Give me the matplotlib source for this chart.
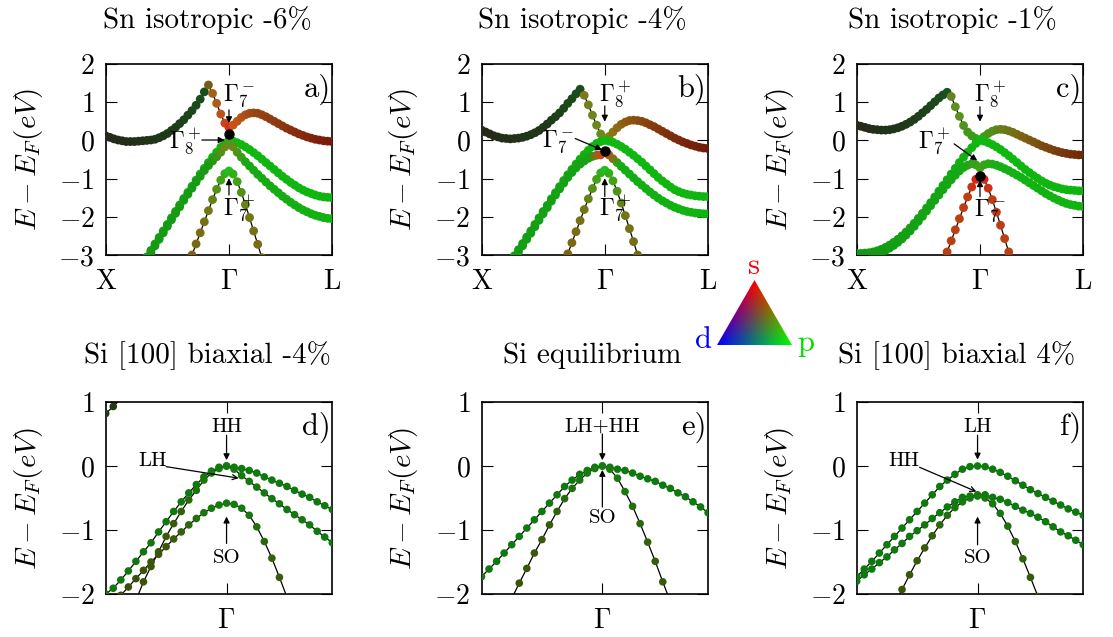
import numpy as np
import matplotlib
matplotlib.use("Agg")
import matplotlib.pyplot as plt
import matplotlib.colors as mcolors
from matplotlib.patches import Polygon

plt.rcParams['font.family'] = 'cmr10'
plt.rcParams['mathtext.fontset'] = 'cm'
plt.rcParams['axes.unicode_minus'] = False

# ---------------- data ----------------
# Sn panels: k grid X(0) -> Gamma(1) -> L(1.8333), step 1/30
sn_k = np.arange(56) / 30.0
sn_ticks = [0.0, 1.0, 55 / 30.0]
sn_ticklabels = ['X', r'$\Gamma$', 'L']

# Si panels: k grid around Gamma, step 1/16
si_k = (np.arange(31) - 16) / 16.0

# panel a: Sn isotropic -6%   (start index, energies)
a_cb = (0, [0.12, 0.08, 0.04, 0.01, -0.01, -0.03, -0.03, -0.03, -0.02, -0.01,
            0.00, 0.01, 0.03, 0.07, 0.12, 0.18, 0.26, 0.34, 0.44, 0.54,
            0.66, 0.78, 0.92, 1.08, 1.27, 1.45, 1.23, 0.97, 0.69, 0.45,
            0.34, 0.40, 0.50, 0.60, 0.67, 0.71, 0.72, 0.71, 0.67, 0.62,
            0.56, 0.50, 0.44, 0.38, 0.32, 0.27, 0.22, 0.17, 0.13, 0.09,
            0.06, 0.03, 0.01, -0.01, -0.02, -0.03])
a_hh = (10, [-3.05, -2.88, -2.71, -2.54, -2.37, -2.20, -2.03, -1.86, -1.69, -1.52,
             -1.36, -1.20, -1.04, -0.88, -0.73, -0.58, -0.44, -0.31, -0.18, -0.07,
             0.00, -0.02, -0.06, -0.11, -0.17, -0.24, -0.32, -0.40, -0.49, -0.58,
             -0.67, -0.76, -0.85, -0.94, -1.02, -1.10, -1.17, -1.24, -1.30, -1.35,
             -1.39, -1.43, -1.46, -1.48, -1.49, -1.50])
a_lh = (10, [-3.10, -2.93, -2.76, -2.59, -2.42, -2.25, -2.08, -1.91, -1.74, -1.57,
             -1.41, -1.25, -1.09, -0.94, -0.79, -0.66, -0.54, -0.43, -0.31, -0.17,
             0.00, -0.17, -0.31, -0.44, -0.56, -0.67, -0.78, -0.89, -0.99, -1.09,
             -1.19, -1.28, -1.37, -1.46, -1.54, -1.62, -1.69, -1.76, -1.82, -1.87,
             -1.92, -1.96, -1.99, -2.02, -2.04, -2.05])
a_so = (20, [-3.29, -3.00, -2.71, -2.42, -2.13, -1.84, -1.55, -1.28, -1.04, -0.87,
             -0.80, -0.88, -1.08, -1.36, -1.68, -2.02, -2.37, -2.72, -3.07])

# panel b: Sn isotropic -4%
b_cb = (0, [0.27, 0.22, 0.17, 0.12, 0.09, 0.06, 0.05, 0.04, 0.05, 0.06,
            0.08, 0.11, 0.15, 0.20, 0.26, 0.34, 0.43, 0.53, 0.62, 0.72,
            0.84, 0.97, 1.09, 1.22, 1.34, 1.18, 0.93, 0.66, 0.40, 0.17,
            0.02, 0.10, 0.22, 0.33, 0.42, 0.48, 0.52, 0.53, 0.52, 0.50,
            0.46, 0.41, 0.36, 0.30, 0.24, 0.18, 0.12, 0.06, 0.01, -0.04,
            -0.08, -0.12, -0.15, -0.18, -0.20, -0.21])
b_hh = (8, [-3.02, -2.86, -2.70, -2.53, -2.37, -2.20, -2.03, -1.86, -1.70, -1.53,
            -1.37, -1.21, -1.05, -0.90, -0.76, -0.62, -0.49, -0.37, -0.26, -0.16,
            -0.08, -0.03, 0.00, -0.02, -0.05, -0.10, -0.16, -0.23, -0.31, -0.39,
            -0.48, -0.57, -0.67, -0.77, -0.87, -0.97, -1.06, -1.14, -1.22, -1.29,
            -1.34, -1.38, -1.41, -1.43, -1.45, -1.46, -1.47, -1.47])
b_lh = (8, [-3.08, -2.92, -2.76, -2.59, -2.43, -2.26, -2.09, -1.92, -1.76, -1.59,
            -1.43, -1.27, -1.12, -0.97, -0.84, -0.72, -0.62, -0.54, -0.47, -0.42,
            -0.39, -0.38, -0.30,
            -0.38, -0.48, -0.58, -0.68, -0.78, -0.88, -0.98, -1.08, -1.17, -1.26,
            -1.35, -1.43, -1.51, -1.58, -1.64, -1.70, -1.75, -1.79, -1.83, -1.86,
            -1.88, -1.90, -1.91, -1.92, -1.92])
b_so = (20, [-3.26, -2.97, -2.68, -2.39, -2.10, -1.81, -1.53, -1.26, -1.02, -0.85,
             -0.78, -0.86, -1.06, -1.33, -1.64, -1.97, -2.31, -2.65, -3.00, -3.35])

# panel c: Sn isotropic -1%
c_cb = (0, [0.40, 0.37, 0.34, 0.31, 0.29, 0.28, 0.27, 0.27, 0.28, 0.30,
            0.33, 0.37, 0.42, 0.48, 0.55, 0.63, 0.72, 0.81, 0.91, 1.01,
            1.11, 1.19, 1.26, 1.15, 0.88, 0.63, 0.39, 0.22, 0.12, 0.05,
            0.02, 0.10, 0.18, 0.24, 0.28, 0.29, 0.28, 0.25, 0.21, 0.16,
            0.11, 0.06, 0.01, -0.04, -0.09, -0.14, -0.18, -0.22, -0.26, -0.29,
            -0.32, -0.34, -0.36, -0.37, -0.38, -0.38])
c_hh = (0, [-2.96, -2.96, -2.95, -2.94, -2.92, -2.89, -2.85, -2.80, -2.74, -2.67,
            -2.59, -2.50, -2.40, -2.29, -2.17, -2.04, -1.91, -1.77, -1.63, -1.48,
            -1.33, -1.18, -1.03, -0.88, -0.73, -0.58, -0.44, -0.31, -0.19, -0.08,
            0.00, -0.02, -0.06, -0.11, -0.17, -0.24, -0.32, -0.40, -0.49, -0.58,
            -0.67, -0.76, -0.84, -0.92, -0.99, -1.06, -1.12, -1.17, -1.21, -1.24,
            -1.27, -1.29, -1.30, -1.31, -1.32, -1.32])
c_lh = (0, [-3.04, -3.04, -3.03, -3.02, -3.00, -2.97, -2.93, -2.88, -2.82, -2.75,
            -2.67, -2.58, -2.48, -2.37, -2.25, -2.12, -1.99, -1.85, -1.71, -1.57,
            -1.43, -1.29, -1.16, -1.03, -0.91, -0.80, -0.71, -0.65, -0.61, -0.64,
            -0.72, -0.64, -0.61, -0.62, -0.65, -0.69, -0.74, -0.79, -0.85, -0.91,
            -0.97, -1.04, -1.11, -1.18, -1.25, -1.32, -1.39, -1.45, -1.51, -1.56,
            -1.61, -1.65, -1.68, -1.70, -1.72, -1.73])
c_so = (21, [-3.21, -2.92, -2.63, -2.34, -2.05, -1.76, -1.48, -1.22, -1.02, -0.95,
             -1.02, -1.25, -1.55, -1.88, -2.22, -2.57, -2.92, -3.27])

# black dots at Gamma (k, E)
sn_dots = [(1.0, 0.17), (1.0, -0.27), (1.0, -0.93)]

# panel d: Si [100] biaxial -4%
d_cb = (0, [0.82, 0.93, 1.05])
d_a = (0, [-2.00, -1.91, -1.78, -1.64, -1.49, -1.34, -1.20, -1.03, -0.87, -0.71,
           -0.56, -0.42, -0.29, -0.17, -0.08, -0.02, 0.00, -0.02, -0.04, -0.07,
           -0.11, -0.17, -0.22, -0.27, -0.32, -0.38, -0.44, -0.49, -0.56, -0.62, -0.68])
d_b = (4, [-2.10, -1.81, -1.57, -1.34, -1.10, -0.90, -0.71, -0.53, -0.38, -0.22,
           -0.11, -0.04, 0.00, -0.05, -0.15, -0.24, -0.33, -0.42, -0.51, -0.59,
           -0.68, -0.76, -0.84, -0.92, -1.02, -1.11, -1.20])
d_c = (2, [-2.02, -1.89, -1.76, -1.63, -1.50, -1.38, -1.26, -1.14, -1.03, -0.92,
           -0.82, -0.73, -0.66, -0.61, -0.58, -0.60, -0.66, -0.77, -0.95, -1.18,
           -1.44, -1.74, -2.05])

# panel e: Si equilibrium
e_hh = (0, [-1.73, -1.61, -1.49, -1.36, -1.23, -1.10, -0.97, -0.84, -0.71, -0.58,
            -0.45, -0.32, -0.22, -0.13, -0.07, -0.02, 0.00, -0.02, -0.05, -0.07,
            -0.11, -0.16, -0.20, -0.24, -0.30, -0.35, -0.42, -0.48, -0.56, -0.64, -0.73])
e_so = (4, [-2.07, -1.83, -1.60, -1.36, -1.15, -0.92, -0.71, -0.51, -0.35, -0.22,
            -0.11, -0.04, 0.00, -0.05, -0.19, -0.40, -0.63, -0.90, -1.19, -1.49,
            -1.81, -2.12])

# panel f: Si [100] biaxial 4%
f_lh = (0, [-1.73, -1.61, -1.49, -1.36, -1.23, -1.10, -0.97, -0.84, -0.71, -0.58,
            -0.45, -0.32, -0.22, -0.13, -0.05, -0.01, 0.00, -0.01, -0.05, -0.10,
            -0.16, -0.23, -0.30, -0.37, -0.43, -0.49, -0.55, -0.61, -0.67, -0.72, -0.77])
f_hh = (0, [-1.80, -1.70, -1.61, -1.51, -1.42, -1.31, -1.21, -1.10, -1.01, -0.92,
            -0.82, -0.73, -0.64, -0.56, -0.49, -0.47, -0.45, -0.45, -0.49, -0.52,
            -0.57, -0.63, -0.69, -0.74, -0.80, -0.87, -0.95, -1.03, -1.09, -1.16, -1.23])
f_so = (5, [-2.17, -1.93, -1.70, -1.48, -1.28, -1.09, -0.92, -0.77, -0.65, -0.56,
            -0.50, -0.47, -0.50, -0.59, -0.74, -0.94, -1.18, -1.45, -1.74, -2.04])

# orbital-character colours along k (k, colour)
dark_cb = [(0.0, '#282818'), (0.5, '#1e3818'), (0.8, '#1a4e1c')]
a_cb_col = dark_cb + [(0.85, '#a06418'), (0.95, '#c0501a'), (1.0, '#d83018'),
                      (1.04, '#c85818'), (1.2, '#9a4814'), (1.5, '#88300e'), (1.84, '#7a1a0a')]
b_cb_col = dark_cb + [(0.82, '#7a7a1a'), (0.97, '#6a8a1e'), (1.04, '#8a7a16'),
                      (1.2, '#8e5412'), (1.5, '#80300e'), (1.84, '#701a0a')]
c_cb_col = [(0.0, '#282818'), (0.4, '#1e3818'), (0.74, '#1a501c'), (0.77, '#6a8a20'),
            (0.95, '#3a9a1a'), (1.0, '#20b018'), (1.08, '#50901a'), (1.3, '#7a6a14'),
            (1.6, '#7a4010'), (1.84, '#6e2a0a')]
green_col = [(0.0, '#149a14'), (0.7, '#12a812'), (1.0, '#10b810'), (1.84, '#10b410')]
a_lh_col = [(0.0, '#149a14'), (0.85, '#189a14'), (0.97, '#6a8a18'), (1.0, '#40a018'),
            (1.03, '#6a8a18'), (1.15, '#18a816'), (1.84, '#10b410')]
b_lh_col = [(0.0, '#149a14'), (0.88, '#14a414'), (0.96, '#c05018'), (1.0, '#d04018'),
            (1.04, '#c05018'), (1.12, '#14ac14'), (1.84, '#10b410')]
c_lh_col = [(0.0, '#129812'), (0.85, '#16a816'), (1.0, '#40a018'), (1.15, '#16b016'), (1.84, '#10b410')]
so_col = [(0.6, '#8a5412'), (0.85, '#6e7a14'), (0.97, '#30b018'), (1.0, '#20c020'),
          (1.03, '#30b018'), (1.15, '#6e7a14'), (1.4, '#8a5412')]
c_so_col = [(0.6, '#b04410'), (0.9, '#c03c12'), (1.0, '#e01c14'), (1.1, '#c03c12'), (1.4, '#b04410')]

si_green = [(-1.0, '#0e7a0e'), (0.9, '#0e7a0e')]
si_olive = [(-1.0, '#3a4a08'), (-0.45, '#3a5a0a'), (-0.15, '#167a0e'), (0.15, '#167a0e'),
            (0.45, '#3a5a0a'), (0.9, '#3a4a08')]
si_olive_left = [(-1.0, '#3a4a08'), (-0.45, '#3a5a0a'), (-0.15, '#167a0e'), (0.9, '#0e7a0e')]
si_dark = [(-1.0, '#223a10'), (0.9, '#223a10')]

# ---------------- drawing ----------------
W, H = 1113, 637
fig = plt.figure(figsize=(W / 100, H / 100), dpi=100)


def make_ax(xleft, ytop, ybot):
    ax = fig.add_axes([xleft / W, 1 - ybot / H, 226 / W, (ybot - ytop) / H])
    ax.tick_params(direction='in', length=8, width=0.8, top=True, right=True,
                   labelsize=20)
    ax.tick_params(axis='x', pad=10)
    ax.tick_params(axis='y', pad=8)
    for s in ax.spines.values():
        s.set_linewidth(1.2)
    return ax


def band(ax, kgrid, data, anchors, size=40):
    start, vals = data
    k = kgrid[start:start + len(vals)]
    ka = [a[0] for a in anchors]
    rgb = np.array([mcolors.to_rgb(a[1]) for a in anchors])
    col = np.stack([np.interp(k, ka, rgb[:, i]) for i in range(3)], axis=1)
    ax.plot(k, vals, color='black', lw=0.9, zorder=2)
    ax.scatter(k, vals, s=size, c=col, linewidths=0, zorder=3)


def arrow(ax, tail, tip, style='-|>'):
    ax.annotate('', xy=tip, xytext=tail,
                arrowprops=dict(arrowstyle=style, color='black', lw=0.9,
                                shrinkA=0, shrinkB=0, mutation_scale=9))


cols = [105.7, 481.5, 856.7]
sn_titles = ['Sn isotropic -6%', 'Sn isotropic -4%', 'Sn isotropic -1%']
si_titles = ['Si [100] biaxial -4%', 'Si equilibrium', 'Si [100] biaxial 4%']
title_x_top = [207, 582, 952]
title_x_bot = [207, 592, 957]

sn_bands = [
    [(a_cb, a_cb_col), (a_hh, green_col), (a_lh, a_lh_col), (a_so, so_col)],
    [(b_cb, b_cb_col), (b_hh, green_col), (b_lh, b_lh_col), (b_so, so_col)],
    [(c_cb, c_cb_col), (c_hh, green_col), (c_lh, c_lh_col), (c_so, c_so_col)],
]
si_bands = [
    [(d_cb, si_dark), (d_a, si_green), (d_b, si_olive_left), (d_c, si_olive)],
    [(e_hh, si_green), (e_so, si_olive)],
    [(f_lh, si_green), (f_hh, si_green), (f_so, si_olive)],
]

ylab = r'$E-E_F(eV)$'
lab_fs = 17
si_fs = 15

for n in range(3):
    # ---- Sn row ----
    ax = make_ax(cols[n], 64, 255)
    for data, colr in sn_bands[n]:
        band(ax, sn_k, data, colr)
    ax.scatter([sn_dots[n][0]], [sn_dots[n][1]], s=42, c='black', zorder=4)
    ax.set_xlim(0, sn_ticks[-1])
    ax.set_ylim(-3, 2)
    ax.set_xticks(sn_ticks)
    ax.set_xticklabels(sn_ticklabels)
    ax.set_yticks([-3, -2, -1, 0, 1, 2])
    ax.set_yticklabels([r'$-3$', r'$-2$', r'$-1$', r'$0$', r'$1$', r'$2$'])
    ax.set_ylabel(ylab, fontsize=21)
    ax.yaxis.set_label_coords(-0.27, 0.5)
    ax.text(0.995, 0.95, 'abc'[n] + ')', transform=ax.transAxes, ha='right', va='top', fontsize=22)
    fig.text(title_x_top[n] / W, 1 - 20 / H, sn_titles[n], ha='center', va='center', fontsize=21)

    # ---- Si row ----
    bx = make_ax(cols[n], 402, 594)
    for data, colr in si_bands[n]:
        band(bx, si_k, data, colr, size=30)
    bx.set_xlim(-1, 0.87)
    bx.set_ylim(-2, 1)
    bx.set_xticks([0])
    bx.set_xticklabels([r'$\Gamma$'])
    bx.set_yticks([-2, -1, 0, 1])
    bx.set_yticklabels([r'$-2$', r'$-1$', r'$0$', r'$1$'])
    bx.set_ylabel(ylab, fontsize=21)
    bx.yaxis.set_label_coords(-0.27, 0.5)
    bx.text(0.995, 0.95, 'def'[n] + ')', transform=bx.transAxes, ha='right', va='top', fontsize=22)
    fig.text(title_x_bot[n] / W, 1 - 356 / H, si_titles[n], ha='center', va='center', fontsize=21)

    if n == 0:
        ax.text(0.95, 1.16, r'$\Gamma_7^-$', ha='left', va='center', fontsize=lab_fs)
        arrow(ax, (1.0, 0.80), (1.0, 0.45))
        ax.text(0.775, -0.05, r'$\Gamma_8^+$', ha='right', va='center', fontsize=lab_fs)
        arrow(ax, (0.78, 0.01), (0.965, 0.01))
        ax.text(0.95, -1.80, r'$\Gamma_7^+$', ha='left', va='center', fontsize=lab_fs)
        arrow(ax, (1.0, -1.43), (1.0, -0.99))
        bx.text(0, 0.61, 'HH', ha='center', va='center', fontsize=si_fs)
        arrow(bx, (0, 0.48), (0, 0.09))
        bx.text(-0.61, 0.07, 'LH', ha='center', va='center', fontsize=si_fs)
        arrow(bx, (-0.5, -0.01), (0.1, -0.19), style='->')
        bx.text(0, -1.44, 'SO', ha='center', va='center', fontsize=si_fs)
        arrow(bx, (0, -1.21), (0, -0.79))
    elif n == 1:
        ax.text(0.95, 1.19, r'$\Gamma_8^+$', ha='left', va='center', fontsize=lab_fs)
        arrow(ax, (1.0, 0.90), (1.0, 0.49))
        ax.text(0.752, -0.03, r'$\Gamma_7^-$', ha='right', va='center', fontsize=lab_fs)
        arrow(ax, (0.76, 0.05), (0.979, -0.25))
        ax.text(0.95, -1.80, r'$\Gamma_7^+$', ha='left', va='center', fontsize=lab_fs)
        arrow(ax, (1.0, -1.47), (1.0, -0.99))
        bx.text(0, 0.61, 'LH+HH', ha='center', va='center', fontsize=si_fs)
        arrow(bx, (0, 0.50), (0, 0.09))
        bx.text(0, -0.82, 'SO', ha='center', va='center', fontsize=si_fs)
        arrow(bx, (0, -0.64), (0, -0.06))
    else:
        ax.text(0.95, 1.19, r'$\Gamma_8^+$', ha='left', va='center', fontsize=lab_fs)
        arrow(ax, (1.0, 0.88), (1.0, 0.49))
        ax.text(0.759, -0.05, r'$\Gamma_7^+$', ha='right', va='center', fontsize=lab_fs)
        arrow(ax, (0.79, -0.09), (0.978, -0.53))
        ax.text(0.95, -1.85, r'$\Gamma_7^-$', ha='left', va='center', fontsize=lab_fs)
        arrow(ax, (1.0, -1.47), (1.0, -1.04))
        bx.text(0, 0.61, 'LH', ha='center', va='center', fontsize=si_fs)
        arrow(bx, (0, 0.48), (0, 0.10))
        bx.text(-0.61, 0.07, 'HH', ha='center', va='center', fontsize=si_fs)
        arrow(bx, (-0.48, -0.02), (-0.01, -0.40), style='->')
        bx.text(0, -1.44, 'SO', ha='center', va='center', fontsize=si_fs)
        arrow(bx, (0, -1.23), (0, -0.79))

# ---- orbital colour triangle ----
tx = fig.add_axes([717 / W, 1 - 345 / H, 75 / W, 65 / H])
tx.set_axis_off()
yy, xx = np.mgrid[0:1:200j, 0:1:200j]
lam_s = yy
lam_p = np.clip(xx - 0.5 * yy, 0, 1)
lam_d = np.clip(1 - xx - 0.5 * yy, 0, 1)
img = np.dstack([lam_s, lam_p, lam_d])
im = tx.imshow(img, origin='lower', extent=[0, 1, 0, 1], aspect='auto')
tri = Polygon([[0, 0], [1, 0], [0.5, 1]], closed=True, transform=tx.transData, facecolor='none')
im.set_clip_path(tri)
tx.set_xlim(0, 1)
tx.set_ylim(0, 1)
fig.text(754 / W, 1 - 266 / H, 's', color='#ff0000', ha='center', va='center', fontsize=22)
fig.text(703 / W, 1 - 340 / H, 'd', color='#0000ff', ha='center', va='center', fontsize=22)
fig.text(806 / W, 1 - 343 / H, 'p', color='#00dd00', ha='center', va='center', fontsize=22)

fig.savefig('out.png', dpi=100)
